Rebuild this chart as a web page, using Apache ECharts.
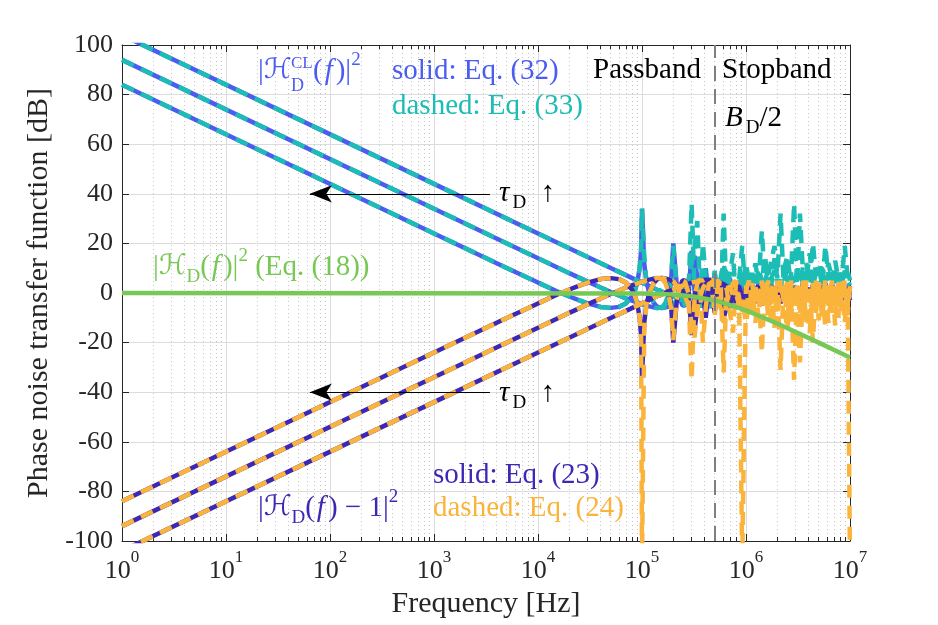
<!DOCTYPE html>
<html>
<head>
<meta charset="utf-8">
<title>Phase noise transfer function</title>
<script src="https://cdn.jsdelivr.net/npm/echarts@6.0.0/dist/echarts.min.js"></script>
<style>
  html, body { margin: 0; background: #fff; }
  #chart { width: 938px; height: 625px; }
</style>
</head>
<body>
<div id="chart"></div>
<script>
// values: x in Hz, y in dB

const xTickLabels = ['0', '1', '2', '3', '4', '5', '6', '7'];

// frequency grid of the busy part above 100 kHz
const fHigh = [
  1e5, 1.05e5, 1.1e5, 1.15e5, 1.2e5, 1.3e5, 1.4e5, 1.5e5, 1.6e5, 1.7e5,
  1.8e5, 1.9e5, 2e5, 2.15e5, 2.3e5, 2.45e5, 2.6e5, 2.8e5, 3e5, 3.2e5,
  3.4e5, 3.6e5, 3.85e5, 4.1e5, 4.4e5, 4.7e5, 5e5, 5.35e5, 5.7e5, 6.1e5,
  6.5e5, 7e5, 7.5e5, 8e5, 8.6e5, 9.2e5, 1e6, 1.07e6, 1.15e6, 1.23e6,
  1.32e6, 1.42e6, 1.52e6, 1.63e6, 1.75e6, 1.88e6, 2e6, 2.15e6, 2.3e6, 2.5e6,
  2.7e6, 2.9e6, 3.1e6, 3.3e6, 3.55e6, 3.8e6, 4.1e6, 4.4e6, 4.7e6, 5e6,
  5.4e6, 5.8e6, 6.2e6, 6.7e6, 7.2e6, 7.7e6, 8.3e6, 8.9e6, 9.5e6, 1e7
];

// |H_D(f) - 1|^2, below 100 kHz (shared by Eq. 23 and Eq. 24)
const eq23Low1 = [[1, -84], [1e3, -24], [5e3, -10.1], [1e4, -4.2], [1.5e4, -0.8], [2e4, 1.4], [2.5e4, 3],
  [3e4, 4.2], [4e4, 5.6], [5e4, 6], [6e4, 5.6], [7e4, 4.2], [8e4, 1.4], [8.5e4, -0.8], [9e4, -4.2],
  [9.5e4, -10], [9.8e4, -17]];
const eq23Low2 = [[1, -94], [1e3, -34], [1e4, -14], [1.5e4, -10.5], [2e4, -8], [3e4, -4.6], [4e4, -2.2],
  [5e4, -0.4], [6e4, 1], [7e4, 2.2], [8e4, 3.1]];
const eq23Low3 = [[1, -104], [1e3, -44], [1e4, -24], [3e4, -14.5], [5e4, -10.1], [7e4, -7.2]];

// |H_D^CL(f)|^2, below 100 kHz (shared by Eq. 32 and Eq. 33)
const eq32Low1 = [[1, 84], [1e3, 24], [5e3, 10.1], [1e4, 4.2], [1.5e4, 0.8], [2e4, -1.4], [2.5e4, -3],
  [3e4, -4.2], [4e4, -5.6], [5e4, -6], [6e4, -5.6], [7e4, -4.2], [8e4, -1.4], [8.5e4, 0.8], [9e4, 4.2],
  [9.5e4, 10], [9.8e4, 17]];
const eq32Low2 = [[1, 94], [1e3, 34], [1e4, 14], [1.5e4, 10.5], [2e4, 8], [3e4, 4.6], [4e4, 2.2],
  [5e4, 0.4], [6e4, -1], [7e4, -2.2], [8e4, -3.1]];
const eq32Low3 = [[1, 104], [1e3, 44], [1e4, 24], [3e4, 14.5], [5e4, 10.1], [7e4, 7.2]];

// values on fHigh
const eq23High1 = [
  -34, -12, -5, -1.5, 1, 4, 5.5, 5.8, 5.5, 4,
  1, -4, -20, -4, 2, 5, 5, 1, -17, -1,
  4, 5, 1, -10, 3, 4, -8, 2, 4, -5,
  3, -6, 3, -4, 2, -3, 2.5, -4, 2, -2,
  3, -5, 1, -3, 2, -1, 3, -4, 1, -2,
  2, -3, 0, 2, -4, 1, -2, 3, -3, 0,
  2, -4, 1, -2, 2, -3, 1, -1, 2, -3
];
const eq23High2 = [
  4.5, 4.7, 5, 5.3, 5.5, 5.8, 5.9, 6, 6, 5.8,
  5.5, 5, 4.4, 3.5, 2.5, 1, -1, -4, -10, -15,
  -6, -1, 2, 4, 5, 4.5, 3, 0, -4, -10,
  -6, 0, 3, 4, 2, -3, -2, 3, -2, 1,
  -4, 2, 0, -3, 3, -1, 2, -4, 1, -2,
  3, -3, 1, 0, -4, 2, -1, 3, -2, 0,
  -3, 2, 1, -4, 2, -2, 3, -1, -3, 1
];
const eq23High3 = [
  -4.2, -3.8, -3.4, -3, -2.6, -1.9, -1.3, -0.9, -0.3, 0.2,
  0.7, 1.1, 1.4, 2, 2.5, 3, 3.4, 3.8, 4.2, 4.5,
  4.8, 5, 5.2, 5.3, 5.3, 5.2, 5, 4.6, 4.2, 3.5,
  2.8, 1.8, 0.5, -1, -3, -5, -6, -5, -3, -1,
  1, 2, 2.3, 2, 0.5, -1.5, -2.5, -1.5, 0.5, 1.6,
  0.8, -1.2, -1.5, 0, 1.2, 0.3, -1.2, 0.2, 1, -0.8,
  0.8, -0.5, 0.3, 0.6, -0.6, 0.5, -0.3, 0.4, -0.4, 0.2
];
const eq24High1 = [
  -110, -15, -5, -1, 1, 4, 5.5, 5.8, 5.4, 3.5,
  0, -6, -19, -3, 2, 5, 4.5, 0, -35, -2,
  4, 5, -20, -6, 4, 3, -9, 3, 5, -32,
  2, -8, -16, 4, -6, -110, 3, -8, 4, -12,
  2, -24, 4, -9, 3, -14, 5, -31, 3, -10,
  4, -35, 2, -28, 4, -12, 3, -20, 5, -11,
  2, -14, 4, -8, 3, -10, 5, -12, 2, -110
];
const eq24High2 = [
  4.5, 4.5, 5.2, 5, 5.8, 5.5, 6.2, 5.8, 6, 5.5,
  5.8, 4.5, 4.8, 3, 2.8, 0.5, -1.5, -5, -12, -18,
  -7, -2, 2, 4, 5.5, 3.5, 4, -3, -6, -12,
  -4, 1, 4, 5, -2, -8, 1, 5, -6, 3,
  -10, 5, -4, 2, -13, 4, -7, 5, -3, -15,
  5, -5, 3, -9, 5, -3, -16, 4, -6, 5,
  -10, 3, -5, 5, -13, 4, -4, 5, -9, 3
];
const eq24High3 = [
  -4.2, -3.8, -3.4, -3, -2.6, -1.9, -1.3, -0.9, -0.3, 0.2,
  0.7, 1.1, 1.4, 2, 2.5, 3, 3.4, 3.8, 4.2, 4.5,
  4.8, 5.2, 5, 5.6, 5, 5.5, 4.2, 5, 3.8, 4.2,
  2, 2.5, -1, 0, -5, -3, -12, -4, -8, 2,
  -3, 4, -2, 5, -6, 1, -9, 3, -2, 5,
  -7, 2, -4, 4, -11, 5, -2, 3, -8, 4,
  -3, 5, -12, 2, -5, 4, -7, 3, -4, 1
];
const eq32High1 = [
  34, 12, 5, 1.5, -1, -4, -5.5, -5.8, -5.5, -4,
  -1, 4, 20, 4, -2, -5, -5, -1, 17, 1,
  -4, -5, -1, 10, -3, -4, 8, -2, -4, 5,
  -3, 6, -3, 4, -2, 3, -2.5, 4, -2, 2,
  -3, 5, -1, 3, -2, 1, -3, 4, -1, 2,
  -2, 3, 0, -2, 4, -1, 2, -3, 3, 0,
  -2, 4, -1, 2, -2, 3, -1, 1, -2, 3
];
const eq32High2 = [
  -4.5, -4.7, -5, -5.3, -5.5, -5.8, -5.9, -6, -6, -5.8,
  -5.5, -5, -4.4, -3.5, -2.5, -1, 1, 4, 10, 15,
  6, 1, -2, -4, -5, -4.5, -3, 0, 4, 10,
  6, 0, -3, -4, -2, 3, 2, -3, 2, -1,
  4, -2, 0, 3, -3, 1, -2, 4, -1, 2,
  -3, 3, -1, 0, 4, -2, 1, -3, 2, 0,
  3, -2, -1, 4, -2, 2, -3, 1, 3, -1
];
const eq32High3 = [
  4.2, 3.8, 3.4, 3, 2.6, 1.9, 1.3, 0.9, 0.3, -0.2,
  -0.7, -1.1, -1.4, -2, -2.5, -3, -3.4, -3.8, -4.2, -4.5,
  -4.8, -5, -5.2, -5.3, -5.3, -5.2, -5, -4.6, -4.2, -3.5,
  -2.8, -1.8, -0.5, 1, 3, 5, 6, 5, 3, 1,
  -1, -2, -2.3, -2, -0.5, 1.5, 2.5, 1.5, -0.5, -1.6,
  -0.8, 1.2, 1.5, 0, -1.2, -0.3, 1.2, -0.2, -1, 0.8,
  -0.8, 0.5, -0.3, -0.6, 0.6, -0.5, 0.3, -0.4, 0.4, -0.2
];
const eq33High1 = [
  34, 15, 5, 1, -1, -4, -5.5, -5.8, -5.4, -3.5,
  0, 6, 19, 3, -2, -5, -4.5, 0, 36, 2,
  -4, -5, 20, 6, -4, -3, 9, -3, -5, 32,
  -2, 8, 16, -4, 6, 19, -3, 8, 3, 12,
  4, 25, 5, 9, 3, 14, 6, 32, 4, 10,
  5, 36, 3, 32, 6, 12, 4, 20, 7, 11,
  3, 19, 6, 8, 4, 10, 5, 19, 6, 3
];
const eq33High2 = [
  -4.5, -4.5, -5.2, -5, -5.8, -5.5, -6.2, -5.8, -6, -5.5,
  -5.8, -4.5, -4.8, -3, -2.8, -0.5, 1.5, 5, 12, 18,
  29, 2, -2, -4, -5.5, -3.5, -4, 3, 6, 12,
  4, -1, -4, -5, 2, 8, -1, 4, 6, 3,
  10, 5, 4, 7, 13, 19, 7, 3, 9, 15,
  4, 5, 8, 9, 3, 5, 16, 4, 6, 10,
  10, 5, 7, 3, 13, 6, 4, 8, 9, 5
];
const eq33High3 = [
  4.2, 3.8, 3.4, 3, 2.6, 1.9, 1.3, 0.9, 0.3, -0.2,
  -0.7, -1.1, -1.4, -2, -2.5, -3, -3.4, -3.8, -4.2, -4.5,
  -4.8, -5.2, -5, -5.6, -5, -5.5, -4.2, -5, -3.8, -4.2,
  -2, -2.5, 1, 0, 5, 3, 12, 4, 8, 3,
  6, 4, 15, 5, 6, 9, 4, 3, 7, 5,
  7, 4, 8, 4, 11, 5, 6, 3, 8, 6,
  4, 5, 12, 6, 5, 7, 4, 9, 5, 3
];

// |H_D(f)|^2, Eq. 18
const eq18 = [[1, 0], [1e5, -0.2], [2e5, -0.6], [3e5, -1.3], [5e5, -3], [7e5, -4.8], [1e6, -7],
  [2e6, -12.3], [5e6, -20], [1e7, -26]];

const halfBandwidth = 5e5;        // B_D / 2
const arrowFrom = 3450, arrowTo = 64, arrowLevels = [40, -40];

const BLUE = '#4b5cf0', CYAN = '#1cbdb4', PURPLE = '#3c28b4', ORANGE = '#fab43c', GREEN = '#78c856';
const AXIS = '#262626';
const serif = "'Liberation Serif', 'DejaVu Serif', serif";
const NOTE_SIZE = 29;

const withHigh = (low, high) => low.concat(fHigh.map((f, i) => [f, high[i]]));

function curve(data, color, dashed) {
  return {
    type: 'line',
    data,
    symbol: 'none',
    silent: true,
    clip: true,
    lineStyle: { color, width: 4.5, type: dashed ? [13, 8] : 'solid' }
  };
}

function mathRich(color, size) {
  return {
    r: { fontFamily: serif, fontSize: size, fill: color, lineHeight: 40 },
    i: { fontFamily: serif, fontSize: size, fontStyle: 'italic', fill: color, lineHeight: 40, padding: [0, 3, 0, 2] },
    h: { fontFamily: "'DejaVu Serif', 'DejaVu Sans', serif", fontSize: size - 1, fill: color, lineHeight: 40 },
    sub: { fontFamily: serif, fontSize: 19, fill: color, verticalAlign: 'bottom', lineHeight: 14 },
    sup: { fontFamily: serif, fontSize: 19, fill: color, verticalAlign: 'top', lineHeight: 24 }
  };
}

function note(x, y, text, color, size) {
  size = size || NOTE_SIZE;
  return {
    type: 'text', x, y, z: 100, silent: true,
    style: {
      text, fill: color, fontFamily: serif, fontSize: size, lineHeight: 40,
      align: 'left', verticalAlign: 'middle', rich: mathRich(color, size)
    }
  };
}

const chart = echarts.init(document.getElementById('chart'));

const arrowLines = arrowLevels.map(v => [
  { coord: [arrowFrom, v], symbol: 'none', lineStyle: { color: '#000', width: 1.2, type: 'solid' } },
  { coord: [arrowTo, v], symbol: 'arrow', symbolSize: [13, 22] }
]);

const option = {
  animation: false,
  backgroundColor: '#fff',
  grid: { left: 122, right: 88, top: 45, bottom: 84 },
  xAxis: [
    {
      type: 'log', logBase: 10, min: 1, max: 1e7, interval: 1,
      name: 'Frequency [Hz]', nameLocation: 'middle', nameGap: 47,
      nameTextStyle: { fontFamily: serif, fontSize: 30, color: AXIS },
      axisLine: { onZero: false, lineStyle: { color: AXIS, width: 1 } },
      axisTick: { inside: true, length: 7, lineStyle: { color: AXIS } },
      minorTick: { show: true, splitNumber: 9, length: 4, lineStyle: { color: AXIS } },
      splitLine: { show: true, lineStyle: { color: '#dcdcdc', width: 1 } },
      minorSplitLine: { show: true, lineStyle: { color: '#c4c4c4', width: 1, type: [1, 3] } },
      axisLabel: {
        margin: 8,
        formatter: v => '{b|10}{s|' + xTickLabels[Math.round(Math.log10(v))] + '}',
        rich: {
          b: { fontFamily: serif, fontSize: 26, color: AXIS, lineHeight: 44 },
          s: { fontFamily: serif, fontSize: 17, color: AXIS, verticalAlign: 'top', lineHeight: 18 }
        }
      }
    },
    {
      type: 'log', logBase: 10, min: 1, max: 1e7, interval: 1, position: 'top',
      axisLine: { onZero: false, lineStyle: { color: AXIS, width: 1 } },
      axisTick: { inside: true, length: 7, lineStyle: { color: AXIS } },
      minorTick: { show: true, splitNumber: 9, length: 4, lineStyle: { color: AXIS } },
      axisLabel: { show: false },
      splitLine: { show: false }
    }
  ],
  yAxis: [
    {
      type: 'value', min: -100, max: 100, interval: 20,
      name: 'Phase noise transfer function [dB]', nameLocation: 'middle', nameGap: 63,
      nameTextStyle: { fontFamily: serif, fontSize: 30, color: AXIS },
      axisLine: { show: true, onZero: false, lineStyle: { color: AXIS, width: 1 } },
      axisTick: { show: true, inside: true, length: 7, lineStyle: { color: AXIS } },
      splitLine: { show: true, lineStyle: { color: '#dcdcdc', width: 1 } },
      axisLabel: { margin: 9, fontFamily: serif, fontSize: 26, color: AXIS }
    },
    {
      type: 'value', min: -100, max: 100, interval: 20, position: 'right',
      axisLine: { show: true, onZero: false, lineStyle: { color: AXIS, width: 1 } },
      axisTick: { show: true, inside: true, length: 7, lineStyle: { color: AXIS } },
      splitLine: { show: false },
      axisLabel: { show: false }
    }
  ],
  series: [
    curve(withHigh(eq32Low1, eq32High1), BLUE, false),
    curve(withHigh(eq32Low2, eq32High2), BLUE, false),
    curve(withHigh(eq32Low3, eq32High3), BLUE, false),
    curve(withHigh(eq32Low1, eq33High1), CYAN, true),
    curve(withHigh(eq32Low2, eq33High2), CYAN, true),
    curve(withHigh(eq32Low3, eq33High3), CYAN, true),
    curve(withHigh(eq23Low1, eq23High1), PURPLE, false),
    curve(withHigh(eq23Low2, eq23High2), PURPLE, false),
    curve(withHigh(eq23Low3, eq23High3), PURPLE, false),
    curve(withHigh(eq23Low1, eq24High1), ORANGE, true),
    curve(withHigh(eq23Low2, eq24High2), ORANGE, true),
    curve(withHigh(eq23Low3, eq24High3), ORANGE, true),
    Object.assign(curve(eq18, GREEN, false), {
      markLine: {
        silent: true,
        symbol: ['none', 'none'],
        label: { show: false },
        emphasis: { disabled: true },
        data: [
          { xAxis: halfBandwidth, lineStyle: { color: '#7f7f7f', width: 2, type: [15, 8] } }
        ].concat(arrowLines)
      }
    })
  ],
  graphic: [
    note(258, 71, '{r||}{h|ℋ}', BLUE),
    note(291, 64, 'CL', BLUE, 17),
    note(291, 86, 'D', BLUE, 18),
    note(313, 71, '{r|(}{i|f}{r|)|}{sup|2}', BLUE),
    note(392, 71, 'solid: Eq. (32)', BLUE),
    note(392, 106, 'dashed: Eq. (33)', CYAN),
    note(593, 70, 'Passband', '#000'),
    note(722, 70, 'Stopband', '#000'),
    note(723, 118, '{i|B}{sub|D}{r|/2}', '#000'),
    note(497, 193, '{i|τ}{sub|D}{r|  ↑}', '#000'),
    note(497, 393, '{i|τ}{sub|D}{r|  ↑}', '#000'),
    note(153, 267, '{r||}{h|ℋ}{sub|D}{r|(}{i|f}{r|)|}{sup|2}{r| (Eq. (18))}', GREEN),
    note(433, 475, 'solid: Eq. (23)', PURPLE),
    note(258, 508, '{r||}{h|ℋ}{sub|D}{r|(}{i|f}{r|) − 1|}{sup|2}', PURPLE),
    note(433, 508, 'dashed: Eq. (24)', ORANGE)
  ]
};

chart.setOption(option);
</script>
</body>
</html>
